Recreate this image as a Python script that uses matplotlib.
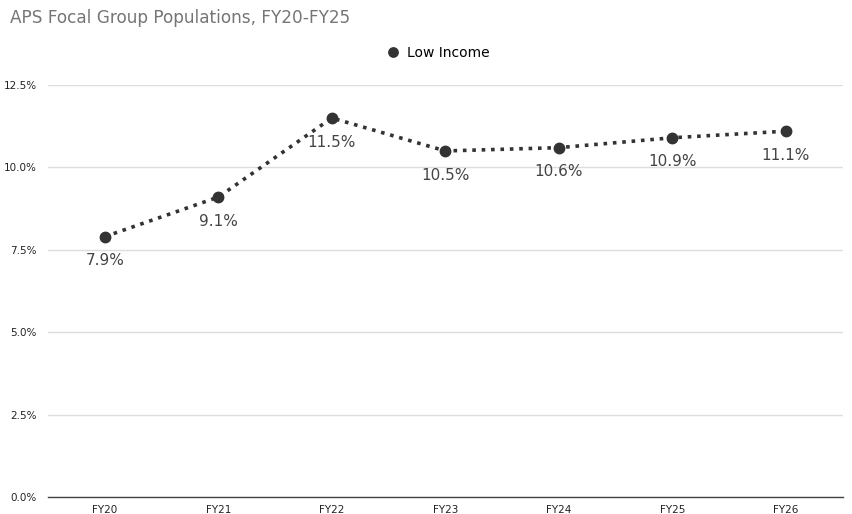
import matplotlib
matplotlib.use('Agg')
import matplotlib.pyplot as plt

# Data
years = ['FY20', 'FY21', 'FY22', 'FY23', 'FY24', 'FY25', 'FY26']
low_income = [7.9, 9.1, 11.5, 10.5, 10.6, 10.9, 11.1]
y_ticks = [0.0, 2.5, 5.0, 7.5, 10.0, 12.5]

fig = plt.figure(figsize=(8.53, 5.14), dpi=100)
ax = fig.add_axes([0.0563, 0.033, 0.9317, 0.8016])

x = list(range(len(years)))
ax.plot(x, low_income, linestyle=(0, (1, 1.6)), linewidth=2.6, color='#333333',
        marker='o', markersize=7.5, markerfacecolor='#333333',
        markeredgecolor='#333333', label='Low Income', zorder=3)

for xi, v in zip(x, low_income):
    ax.annotate(f'{v:.1f}%', (xi, v), textcoords='offset points', xytext=(0, -12),
                ha='center', va='top', fontsize=11, color='#444444')

ax.set_xlim(-0.5, len(years) - 0.5)
ax.set_ylim(0, 12.5)
ax.set_xticks(x)
ax.set_xticklabels(years, fontsize=7.5, color='#222222')
ax.set_yticks(y_ticks)
ax.set_yticklabels([f'{t:.1f}%' for t in y_ticks], fontsize=7.5, color='#222222')
ax.tick_params(axis='both', length=0, pad=6)
ax.tick_params(axis='y', pad=8)

ax.grid(axis='y', color='#dddddd', linewidth=1)
ax.set_axisbelow(True)
for s in ['top', 'right', 'left']:
    ax.spines[s].set_visible(False)
ax.spines['bottom'].set_color('#444444')
ax.spines['bottom'].set_linewidth(1)

fig.text(0.012, 0.965, 'APS Focal Group Populations, FY20-FY25', fontsize=12.2,
         color='#757575', ha='left', va='center')

leg = ax.legend(loc='center', bbox_to_anchor=(0.492, 1.078), frameon=False,
                fontsize=10, handlelength=0.6, handletextpad=0.7, markerscale=0.9)
for h in leg.legend_handles:
    h.set_linestyle('none')

fig.savefig('out.png', dpi=100)
